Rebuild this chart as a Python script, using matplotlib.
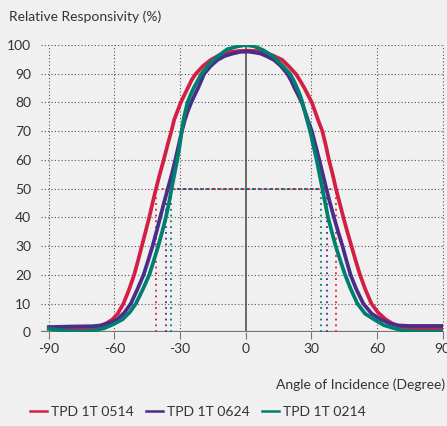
import matplotlib
matplotlib.use("Agg")
import matplotlib.pyplot as plt

plt.rcParams['font.family'] = ['Lato', 'DejaVu Sans']

# relative responsivity (%) vs angle of incidence (degree)
red_ang = [-90, -80, -72, -67, -63.5, -60.9, -58.5, -55.9, -53.5, -51,
           -49.2, -47.5, -45.8, -44.1, -42.6, -41, -39.3, -37.5, -35.8, -34,
           -32.7, -31.2, -29.7, -28.1, -26.5, -24.6, -22.8, -19.5, -16, -12,
           -7.6, -3, 1.5, 5, 8.4, 12.5, 16.7, 20, 22.8, 24.9,
           26.8, 28.5, 30.2, 33, 35, 36.6, 38, 39.7, 41.2, 42.9,
           44.6, 46.4, 48.3, 50.2, 52.2, 54.6, 57.4, 60.3, 63.9, 67,
           70.8, 76, 90]
red_val = [1.4, 1.4, 1.5, 2.1, 3.2, 4.5, 6.5, 10, 14.5, 20,
           25, 30, 35, 40, 45, 50, 55, 60, 65, 70,
           74, 77, 80, 82.5, 85, 88, 90, 92.7, 94.8, 96.5,
           97.5, 97.9, 98, 97.9, 97.5, 96.3, 94.8, 92.3, 90, 87.5,
           85, 82.5, 80, 74, 70, 65, 60, 55, 50, 45,
           40, 35, 30, 25, 20, 15, 10, 7, 4.5, 3,
           2, 1.4, 1.3]

purple_ang = [-90, -80, -70, -66, -62, -58.6, -55.5, -52.5, -49.5, -46.7,
              -44.6, -42.6, -40.8, -39.1, -37.4, -35.6, -33.8, -32.2, -30.7, -29.2,
              -27.8, -26.5, -24.9, -23.4, -21.8, -19, -16, -12.9, -9.5, -6,
              -2.5, 1, 4, 6.8, 9.8, 12.9, 16, 19, 20.8, 22.3,
              24, 25.6, 27, 28.3, 30.2, 31.9, 33.6, 35.2, 36.8, 38.5,
              40.3, 42.2, 44.2, 46, 47.9, 50.5, 53.7, 57.5, 61.6, 65.5,
              69.3, 75, 90]
purple_val = [1.8, 2.0, 2.1, 2.4, 3.3, 4.5, 6.8, 10, 15, 20,
              25, 30, 35, 40, 45, 50, 55, 60, 65, 70,
              74, 77, 80, 82.5, 85, 90, 92.7, 94.8, 96.2, 97,
              97.6, 97.7, 97.4, 97, 96, 94.8, 92.7, 90, 87.5, 85,
              82.5, 80, 77, 74, 70, 65, 60, 55, 50, 45,
              40, 35, 30, 25, 20, 15, 10, 6.5, 4.5, 3.2,
              2.4, 2.2, 2.2]

teal_ang = [-90, -85, -80, -75, -70, -64.7, -60.5, -56.3, -53, -50.2,
            -47, -44.1, -42, -40, -38.2, -36.5, -35.1, -33.9, -32.6, -31.3,
            -30.2, -29.3, -28.2, -26.6, -25.3, -23.8, -22, -20.2, -16.5, -12.9,
            -8.5, -3.8, 0, 4, 8, 12.5, 16.5, 20.2, 22, 23.5,
            24.8, 25.9, 27.6, 28.5, 29.4, 30.9, 32.4, 33.7, 35, 36.3,
            37.6, 39.3, 41.1, 43.2, 45.4, 48, 51, 54.5, 58.6, 63,
            67.7, 72, 78, 90]
teal_val = [1.2, 0.8, 0.4, 0.3, 0.6, 1.4, 2.8, 4.5, 7, 10,
            15, 20, 25, 30, 35, 40, 45, 50, 55, 60,
            65, 70, 75, 80, 82.5, 85, 87.5, 90, 93.5, 96,
            98.5, 99.5, 100, 99.5, 98.2, 96, 93, 90, 87.5, 85,
            82.5, 80, 75, 72.5, 70, 65, 60, 55, 50, 45,
            40, 35, 30, 25, 20, 15, 10, 6.5, 4.5, 2.5,
            1.4, 0.6, 0.3, 0.3]

names = ['TPD 1T 0514', 'TPD 1T 0624', 'TPD 1T 0214']
colors = ['#d41f45', '#4a2c8a', '#007f6e']
half_left = [-41.2, -36.6, -34.2]
half_right = [41.4, 37.0, 34.6]

fig = plt.figure(figsize=(4.47, 4.26), dpi=100, facecolor='#f0f0f0')
ax = fig.add_axes([0.0911, 0.22, 0.8993, 0.6744])
ax.set_facecolor('#f0f0f0')

dot = (0, (1, 2))
for y in range(10, 101, 10):
    ax.axhline(y, color='#555555', lw=0.8, ls=dot, zorder=1)
for x in [-90, -60, -30, 30, 60, 90]:
    ax.axvline(x, color='#555555', lw=0.8, ls=dot, zorder=1, clip_on=False)
ax.axvline(0, color='#444444', lw=1.1, zorder=2)
ax.axhline(0, color='#777777', lw=1.6, zorder=2)

# half-sensitivity markers
hdot = (0, (1, 2.2))
for i in range(3):
    ax.plot([half_left[i], half_right[i]], [50, 50], color=colors[i], lw=1.3, ls=hdot, zorder=3)
    for x in (half_left[i], half_right[i]):
        ax.plot([x, x], [0, 50], color=colors[i], lw=1.3, ls=hdot, zorder=3)

series = [(red_ang, red_val), (purple_ang, purple_val), (teal_ang, teal_val)]
for i in [2, 1, 0]:
    a, v = series[i]
    ax.plot(a, v, color=colors[i], lw=2.7, solid_joinstyle='round', zorder=5 + i,
            label=names[i])

ax.set_xlim(-93.7, 90)
ax.set_ylim(0, 100)
ax.set_xticks([-90, -60, -30, 0, 30, 60, 90])
ax.set_xticklabels(['-90', '-60', '-30', '0', '30', '60', '90'])
ax.set_yticks(range(0, 101, 10))
for s in ax.spines.values():
    s.set_visible(False)
ax.tick_params(axis='x', length=5, width=0.8, color='#777777', pad=3, labelsize=10,
               labelcolor='#333333')
ax.tick_params(axis='y', length=0, pad=7, labelsize=10, labelcolor='#333333')

fig.text(9 / 447, 1 - 17 / 426, 'Relative Responsivity (%)', ha='left', va='center',
         fontsize=10, color='#333333')
fig.text(445 / 447, 1 - 385 / 426, 'Angle of Incidence (Degree)', ha='right', va='center',
         fontsize=10, color='#333333')

handles, labels = ax.get_legend_handles_labels()
hmap = dict(zip(labels, handles))
leg = fig.legend([hmap[n] for n in names], names, loc='center', bbox_to_anchor=(198 / 447, 1 - 412 / 426),
                 ncol=3, frameon=False, fontsize=10, handlelength=1.2, handletextpad=0.3,
                 columnspacing=0.9, labelcolor='#333333')
for h in leg.get_lines():
    h.set_linewidth(1.8)

fig.savefig('out.png', dpi=100, facecolor='#f0f0f0')
